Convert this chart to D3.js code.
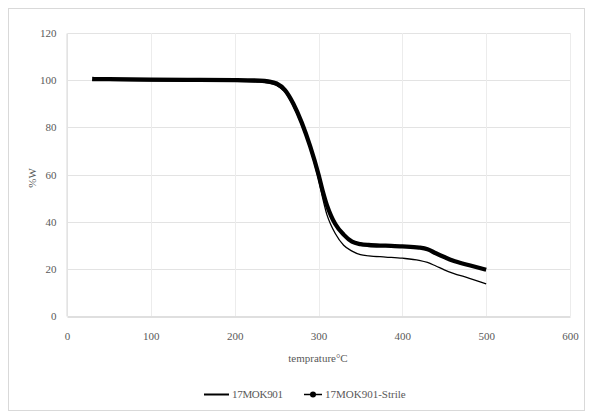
<!DOCTYPE html>
<html>
<head>
<meta charset="utf-8">
<script src="https://cdn.jsdelivr.net/npm/d3@7"></script>
<style>
  body { margin: 0; background: #fff; }
  text { font-family: "Liberation Serif", "DejaVu Serif", serif; }
</style>
</head>
<body>
<svg id="chart" width="593" height="415"></svg>
<script>
// data
const temps = [30, 50, 100, 150, 200, 230, 240, 250, 260, 270, 280, 290, 300, 305, 310, 315, 320, 330, 340, 350, 360, 380, 400, 420, 430, 440, 450, 460, 480, 500];
const mok901 = [100, 99.9, 99.7, 99.6, 99.5, 99.2, 98.8, 97.8, 95, 89, 81, 71, 58, 50, 43, 38.5, 35, 30, 27.5, 26, 25.5, 25, 24.5, 23.6, 22.7, 21.2, 19.6, 18.2, 16, 13.6];
const mok901Strile = [100.5, 100.4, 100.2, 100.1, 100, 99.8, 99.5, 98.6, 95.8, 90, 82, 72, 60, 53, 47, 42.5, 39, 34.5, 31.5, 30.5, 30.1, 29.8, 29.5, 29, 28.3, 26.6, 25, 23.5, 21.5, 19.6];
const xTicks = [0, 100, 200, 300, 400, 500, 600];
const yTicks = [0, 20, 40, 60, 80, 100, 120];

const svg = d3.select('#chart');
const width = +svg.attr('width');
const height = +svg.attr('height');

// outer frame
svg.append('rect')
    .attr('x', 8.5).attr('y', 8.5)
    .attr('width', width - 17).attr('height', height - 13)
    .attr('fill', '#fff').attr('stroke', '#d9d9d9');

const x = d3.scaleLinear().domain([0, 600]).range([67, 570]);
const y = d3.scaleLinear().domain([0, 120]).range([316, 33]);

// grid
const grid = svg.append('g').attr('class', 'grid');
grid.selectAll('line.h')
    .data(yTicks.filter(d => d > 0))
    .enter().append('line')
    .attr('x1', x(0)).attr('x2', x(600))
    .attr('y1', d => Math.round(y(d)) + 0.5).attr('y2', d => Math.round(y(d)) + 0.5)
    .attr('stroke', '#e3e3e3');
grid.selectAll('line.v')
    .data(xTicks)
    .enter().append('line')
    .attr('y1', y(0)).attr('y2', y(120))
    .attr('x1', d => Math.round(x(d)) + 0.5).attr('x2', d => Math.round(x(d)) + 0.5)
    .attr('stroke', '#ececec');

// axes
const xAxis = svg.append('g')
    .attr('transform', `translate(0,${Math.round(y(0)) + 0.5})`)
    .call(d3.axisBottom(x).tickValues(xTicks).tickSize(0).tickPadding(16));
const yAxis = svg.append('g')
    .attr('transform', `translate(${Math.round(x(0)) - 0.5},0)`)
    .call(d3.axisLeft(y).tickValues(yTicks).tickSize(0).tickPadding(10));
xAxis.select('.domain').attr('stroke', '#bfbfbf');
yAxis.select('.domain').attr('stroke', '#d9d9d9');
[xAxis, yAxis].forEach(a => a.selectAll('text')
    .attr('fill', '#595959')
    .style('font-family', '"Liberation Serif", serif')
    .style('font-size', '11px'));

// axis titles
svg.append('text')
    .attr('x', 318).attr('y', 362)
    .attr('text-anchor', 'middle')
    .attr('fill', '#595959').attr('font-size', 11)
    .text('temprature°C');
svg.append('text')
    .attr('transform', 'translate(36,178) rotate(-90)')
    .attr('text-anchor', 'middle')
    .attr('fill', '#595959').attr('font-size', 11)
    .text('%W');

// series
const line = (vals) => d3.line()
    .x((d, i) => x(temps[i]))
    .y(d => y(d))
    .curve(d3.curveMonotoneX)(vals);

svg.append('path')
    .attr('d', line(mok901Strile))
    .attr('fill', 'none').attr('stroke', '#000')
    .attr('stroke-width', 4.3).attr('stroke-linejoin', 'round');
svg.append('path')
    .attr('d', line(mok901))
    .attr('fill', 'none').attr('stroke', '#000')
    .attr('stroke-width', 1.3);

// legend
const legend = svg.append('g').attr('class', 'legend');
legend.append('line')
    .attr('x1', 204).attr('x2', 229).attr('y1', 394.5).attr('y2', 394.5)
    .attr('stroke', '#000').attr('stroke-width', 2);
legend.append('text')
    .attr('x', 232).attr('y', 398)
    .attr('fill', '#595959').attr('font-size', 11)
    .attr('textLength', 51)
    .text('17MOK901');
legend.append('line')
    .attr('x1', 304).attr('x2', 322).attr('y1', 394.5).attr('y2', 394.5)
    .attr('stroke', '#000').attr('stroke-width', 1.5);
legend.append('circle')
    .attr('cx', 313).attr('cy', 394.5).attr('r', 3)
    .attr('fill', '#000');
legend.append('text')
    .attr('x', 325).attr('y', 398)
    .attr('fill', '#595959').attr('font-size', 11)
    .text('17MOK901-Strile');
</script>
</body>
</html>
